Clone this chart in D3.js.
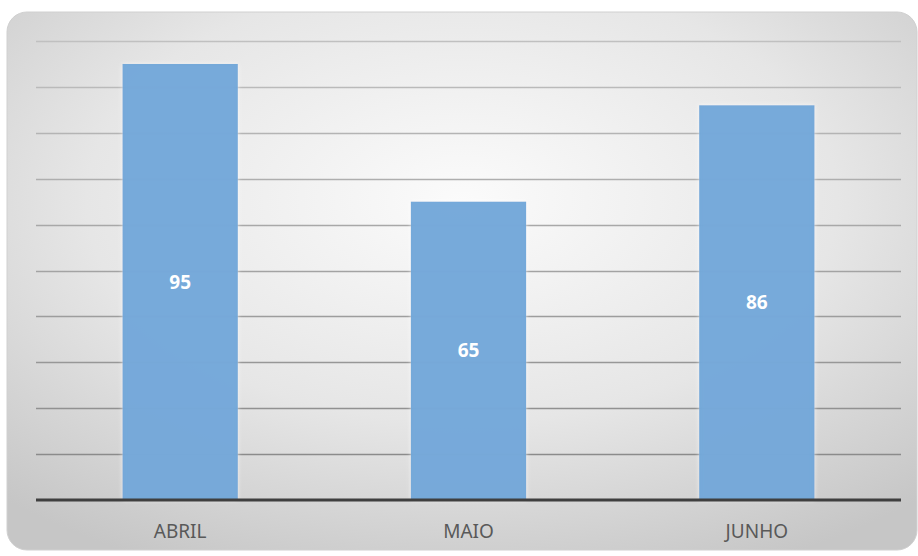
<!DOCTYPE html>
<html>
<head>
<meta charset="utf-8">
<script src="https://cdn.jsdelivr.net/npm/d3@7"></script>
<style>
  html, body { margin: 0; padding: 0; background: #fff; }
  svg { display: block; }
</style>
</head>
<body>
<svg id="chart" width="918" height="556"></svg>
<script>
// Data
const months = ['ABRIL', 'MAIO', 'JUNHO'];
const values = [95, 65, 86];
const gridTicks = [10, 20, 30, 40, 50, 60, 70, 80, 90, 100];

const svg = d3.select('#chart');
const width = 918;
const height = 556;

const plot = { left: 36, right: 901, top: 41, bottom: 500 };

const defs = svg.append('defs');

// Background gradient (light centre, grey edges)
const bg = defs.append('radialGradient')
  .attr('id', 'bgGrad')
  .attr('cx', '50%').attr('cy', '35%')
  .attr('r', '75%');
bg.append('stop').attr('offset', '0%').attr('stop-color', '#fbfbfb');
bg.append('stop').attr('offset', '55%').attr('stop-color', '#e6e6e6');
bg.append('stop').attr('offset', '100%').attr('stop-color', '#c6c6c6');

// Soft glow around bars
const glow = defs.append('filter').attr('id', 'glow')
  .attr('x', '-10%').attr('y', '-10%').attr('width', '120%').attr('height', '120%');
glow.append('feGaussianBlur').attr('in', 'SourceAlpha').attr('stdDeviation', 2).attr('result', 'b');
glow.append('feFlood').attr('flood-color', '#ffffff').attr('flood-opacity', 0.7);
glow.append('feComposite').attr('in2', 'b').attr('operator', 'in').attr('result', 'g');
const merge = glow.append('feMerge');
merge.append('feMergeNode').attr('in', 'g');
merge.append('feMergeNode').attr('in', 'SourceGraphic');

// Chart area
svg.append('rect')
  .attr('x', 7)
  .attr('y', 12)
  .attr('width', 910)
  .attr('height', 538)
  .attr('rx', 20)
  .attr('fill', 'url(#bgGrad)')
  .attr('stroke', '#d0d0d0')
  .attr('stroke-width', 1);

const x = d3.scaleBand()
  .domain(months)
  .range([plot.left, plot.right])
  .paddingInner(0.6)
  .paddingOuter(0.3);

const y = d3.scaleLinear()
  .domain([0, 100])
  .range([plot.bottom, plot.top]);

// Gridlines
svg.append('g')
  .selectAll('line')
  .data(gridTicks)
  .join('line')
  .attr('x1', plot.left)
  .attr('x2', plot.right)
  .attr('y1', d => Math.round(y(d)) + 0.5)
  .attr('y2', d => Math.round(y(d)) + 0.5)
  .attr('stroke', d => d3.interpolateRgb('#c0c0c0', '#858585')(1 - d / 100))
  .attr('stroke-width', 1.6);

// Bars
svg.append('g')
  .selectAll('rect')
  .data(values)
  .join('rect')
  .attr('x', (d, i) => x(months[i]))
  .attr('y', d => y(d))
  .attr('width', x.bandwidth())
  .attr('height', d => y(0) - y(d))
  .attr('fill', '#6ca4d8')
  .attr('fill-opacity', 0.95)
  .attr('filter', 'url(#glow)');

// Baseline
svg.append('line')
  .attr('x1', plot.left)
  .attr('x2', plot.right)
  .attr('y1', y(0))
  .attr('y2', y(0))
  .attr('stroke', '#3f3f3f')
  .attr('stroke-width', 3);

// Value labels
svg.append('g')
  .selectAll('text')
  .data(values)
  .join('text')
  .attr('x', (d, i) => x(months[i]) + x.bandwidth() / 2)
  .attr('y', d => (y(d) + y(0)) / 2)
  .attr('dy', '0.35em')
  .attr('text-anchor', 'middle')
  .attr('fill', '#ffffff')
  .attr('font-family', 'Noto Sans, sans-serif')
  .attr('font-weight', 'bold')
  .attr('font-size', '19px')
  .text(d => d);

// Category labels
svg.append('g')
  .selectAll('text')
  .data(months)
  .join('text')
  .attr('x', d => x(d) + x.bandwidth() / 2)
  .attr('y', 531)
  .attr('dy', '0.35em')
  .attr('text-anchor', 'middle')
  .attr('fill', '#595959')
  .attr('font-family', 'Noto Sans, sans-serif')
  .attr('font-size', '19px')
  .text(d => d);
</script>
</body>
</html>
